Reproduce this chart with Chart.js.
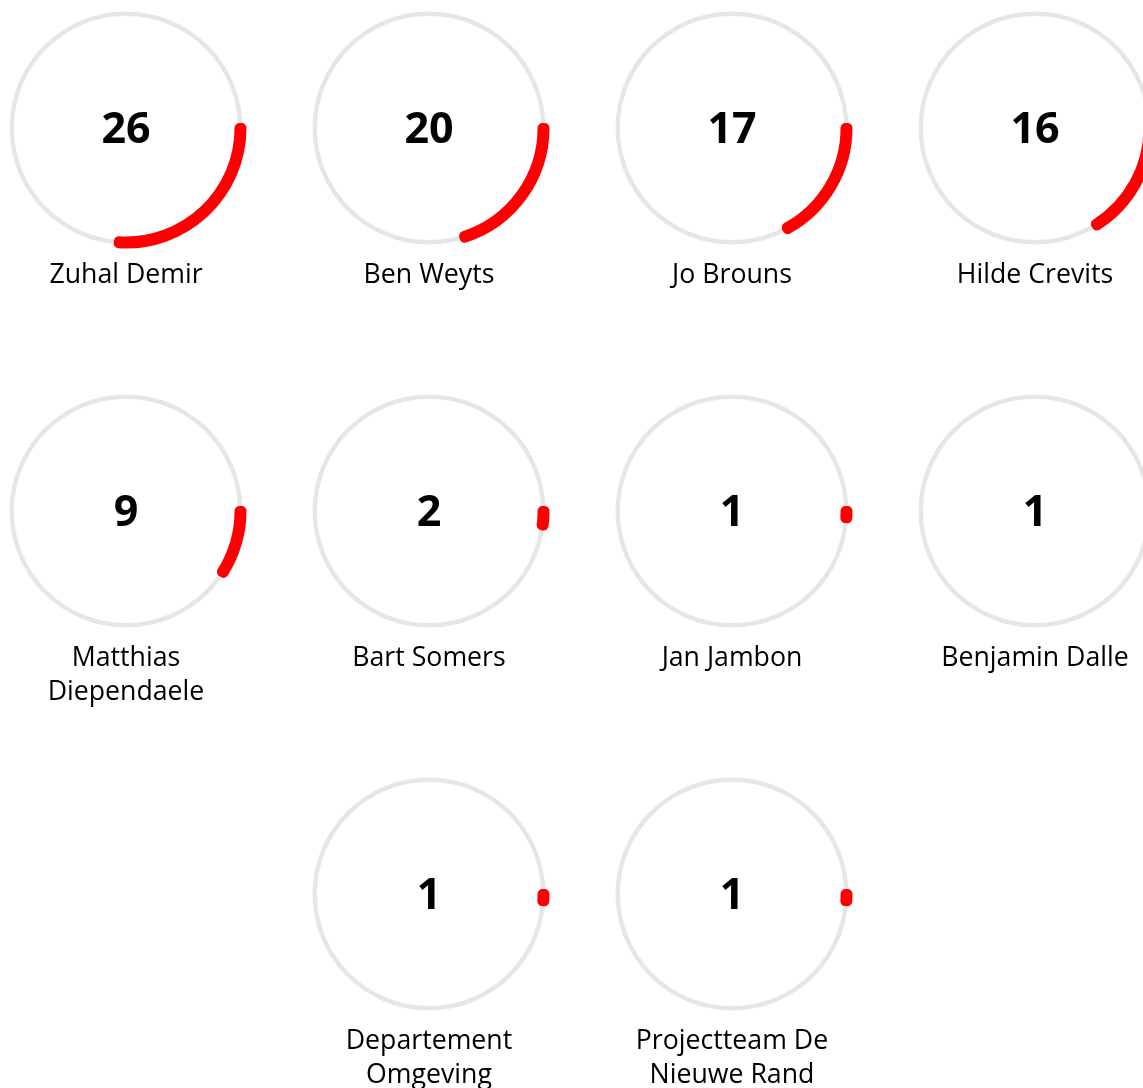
<!DOCTYPE html>
<html>
<head>
<meta charset="utf-8">
<script src="https://cdn.jsdelivr.net/npm/chart.js@4.4.1/dist/chart.umd.min.js"></script>
<style>
	html, body { margin: 0; padding: 0; background: #fff; overflow: hidden; }
	body { width: 1143px; height: 1088px; position: relative; font-family: 'Open Sans', sans-serif; color: #000; }
	.wrap { position: absolute; left: -25.5px; top: 3px; width: 1212px; display: flex; flex-wrap: wrap; justify-content: center; }
	.cell { width: 303px; height: 383px; position: relative; }
	.cell canvas { position: absolute; left: 26.5px; top: 0; }
	.num { position: absolute; left: 26.5px; top: -2px; width: 250px; height: 250px; display: flex; align-items: center; justify-content: center; font-weight: 700; font-size: 43px; }
	.lbl { position: absolute; left: 26.5px; top: 252.5px; width: 250px; text-align: center; font-size: 26.7px; line-height: 34.5px; }
</style>
</head>
<body>
<div class="wrap" id="wrap"></div>
<script>
// JavaScript Document

// 데이터
const names = ['Zuhal Demir', 'Ben Weyts', 'Jo Brouns', 'Hilde Crevits', 'Matthias Diependaele', 'Bart Somers', 'Jan Jambon', 'Benjamin Dalle', 'Departement Omgeving', 'Projectteam De Nieuwe Rand'];
const counts = [26, 20, 17, 16, 9, 2, 1, 1, 1, 1];
const maxCount = 100;

const RED = '#ff0000';
const TRACK = '#e6e6e6';

/**
 * 공통 옵션
 */
let baseOptions = (cutout, radius) => {
	return {
		responsive : false,
		animation : false,
		events : [],
		rotation : 90,
		cutout : cutout,
		radius : radius,
		plugins : {
			legend : { display : false },
			tooltip : { enabled : false }
		}
	};
}

let wrap = document.getElementById('wrap');

names.forEach((name, i) => {
	let cell = document.createElement('div');
	cell.className = 'cell';

	let cvTrack = document.createElement('canvas');
	cvTrack.width = 250; cvTrack.height = 250;
	let cvValue = document.createElement('canvas');
	cvValue.width = 250; cvValue.height = 250;

	let num = document.createElement('div');
	num.className = 'num';
	num.textContent = counts[i];

	let lbl = document.createElement('div');
	lbl.className = 'lbl';
	lbl.textContent = name;

	cell.appendChild(cvTrack);
	cell.appendChild(cvValue);
	cell.appendChild(num);
	cell.appendChild(lbl);
	wrap.appendChild(cell);

	// 회색 배경 링
	new Chart(cvTrack, {
		type : 'doughnut',
		data : {
			labels : [name],
			datasets : [{
				data : [maxCount],
				backgroundColor : [TRACK],
				borderWidth : 0
			}]
		},
		options : baseOptions('96.2%', 116.5)
	});

	// 빨간 값 링 (둥근 끝)
	new Chart(cvValue, {
		type : 'doughnut',
		data : {
			labels : [name, ''],
			datasets : [{
				data : [counts[i], maxCount - counts[i]],
				backgroundColor : [RED, 'rgba(0,0,0,0)'],
				borderColor : [RED, 'rgba(0,0,0,0)'],
				borderWidth : [10, 0],
				borderJoinStyle : 'round'
			}]
		},
		options : baseOptions('98.3%', 115.5)
	});
});
</script>
</body>
</html>
